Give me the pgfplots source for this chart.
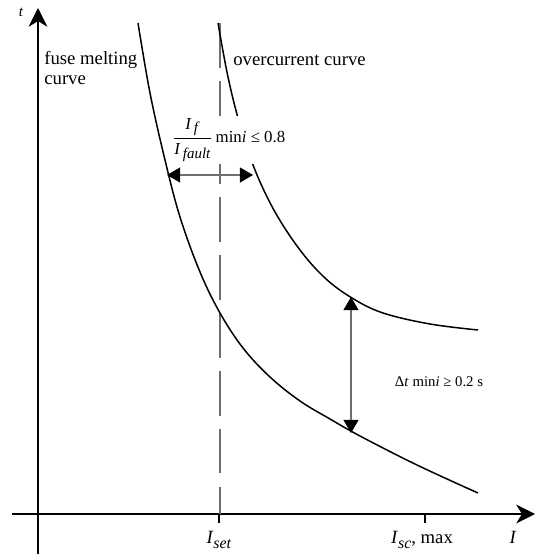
\documentclass[border=0pt]{standalone}
\usepackage{amsmath}
\usepackage{fontspec}
\setmainfont{Liberation Serif}
\usepackage{pgfplots}
\pgfplotsset{compat=1.18}
\usetikzlibrary{arrows.meta}
\pgfplotstableread{
x y
138 532
150 462
165 395
180 338
200 283
220 242
243 207
270 178
300 154
330 136
360 119
417 90
478 62
}\fusetable
\pgfplotstableread{
x y
218 532
228 478
240 430
255 385
275 343
300 305
325 277
352 257
383 242
430 231
478 225
}\octable
\definecolor{arrgray}{RGB}{110,110,110}
\begin{document}
\begin{tikzpicture}
\begin{axis}[
  x=0.535pt, y=0.535pt,
  xmin=0, xmax=535, ymin=0, ymax=555,
  hide axis, clip=false,
  scale only axis,
]
\path (axis cs:0,0) rectangle (axis cs:535,555);
% axes
\draw[line width=0.8pt, -{Stealth[length=10pt,width=10pt,inset=3pt]}] (axis cs:12,41) -- (axis cs:535,41);
\draw[line width=0.8pt, -{Stealth[length=10pt,width=10pt,inset=3pt]}] (axis cs:38,1) -- (axis cs:38,547);
% ticks
\draw[line width=0.6pt] (axis cs:219,41) -- (axis cs:219,32);
\draw[line width=0.6pt] (axis cs:425,41) -- (axis cs:425,32);
\node at (axis cs:219,15) {\textit{I}\raisebox{-2.5pt}{\fontsize{8.5}{9}\selectfont\textit{set}}};
\node at (axis cs:422,15) {\textit{I}\raisebox{-2.5pt}{\fontsize{8.5}{9}\selectfont\textit{sc}}, max};
\node at (axis cs:513,18) {\textit{I}};
\node at (axis cs:21,543) {\footnotesize\textit{t}};
% dashed line
\draw[arrgray, line width=0.7pt, dash pattern=on 24pt off 7pt] (axis cs:220,532) -- (axis cs:220,41);
% curves
\addplot[black, line width=0.8pt, smooth, tension=0.6] table[x=x,y=y] {\fusetable};
\addplot[black, line width=0.8pt, smooth, tension=0.6] table[x=x,y=y] {\octable};
% labels
\node[anchor=west, align=left, inner sep=0pt] at (axis cs:44,487) {fuse melting\\[-1pt]curve};
\node[anchor=west, inner sep=0pt] at (axis cs:233,495) {overcurrent curve};
\node[anchor=west, fill=white, inner sep=1pt, font=\fontsize{9}{10}\selectfont] at (axis cs:170,415)
  {$\dfrac{\textit{I}\,\raisebox{-2pt}{\fontsize{8}{8}\selectfont\textit{f}}}{\textit{I}\,\raisebox{-2.5pt}{\fontsize{8}{8}\selectfont\textit{fault}}}$\,min\textit{i} ≤ 0.8};
\node[font=\fontsize{7.9}{9}\selectfont] at (axis cs:439,173) {Δ\textit{t} min\textit{i} ≥ 0.2 s};
% arrows
\addplot[arrgray, line width=0.6pt, {Triangle[length=7pt,width=8pt,color=black]}-{Triangle[length=7pt,width=8pt,color=black]}] coordinates {(167,380) (253,380)};
\addplot[arrgray, line width=0.6pt, {Triangle[length=7pt,width=8pt,color=black]}-{Triangle[length=7pt,width=8pt,color=black]}] coordinates {(351,258) (351,122)};
\end{axis}
\end{tikzpicture}
\end{document}
